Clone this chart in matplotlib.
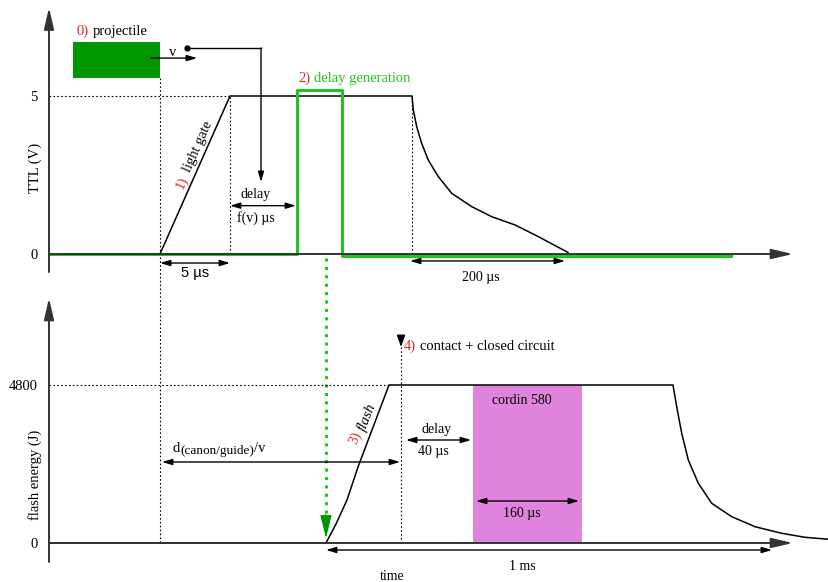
import matplotlib.pyplot as plt

plt.rcParams['font.family'] = ['Liberation Serif', 'DejaVu Serif']

# schematic time axis (not to scale)
ttl_t = [49, 160, 230, 412, 413.3, 416.7, 421.7, 428.3, 438.3, 451.7, 471.7,
         491.7, 515, 538.3, 568]
ttl_v = [0, 0, 5, 5, 4.56, 4.03, 3.5, 2.97, 2.45, 1.92, 1.5, 1.18, 0.92, 0.55,
         0.05]
delay_t = [49, 297, 297, 342, 342, 731]
delay_v = [0, 0, 5.2, 5.2, -0.05, -0.05]
flash_t = [49, 326, 336, 347, 358, 389, 673, 676.7, 681.7, 688.3, 698.3,
           711.7, 731.7, 755, 781.7, 805, 829]
flash_e = [0, 0, 577, 1306, 2309, 4800, 4800, 4141, 3333, 2522, 1814, 1206,
           799, 495, 295, 173, 112]
cordin_t = [473, 582]
ttl_ticks = [0, 5]
flash_ticks = [0, 4800]

RED = '#dd2a2a'
GREEN = '#22c322'
DARKGREEN = '#009600'
PINK = '#e083dc'
AXC = '#333333'

fig = plt.figure(figsize=(8.29, 5.82), dpi=100)
ax1 = fig.add_axes([49/829, 292/582, 780/829, 290/582])
ax2 = fig.add_axes([49/829, 0, 780/829, 292/582])
ax1.set_xlim(49, 829)
ax1.set_ylim(-1.139, 8.038)
ax2.set_xlim(49, 829)
ax2.set_ylim(-1185, 7686)
for ax in (ax1, ax2):
    ax.patch.set_visible(False)
    for s in ax.spines.values():
        s.set_visible(False)
    ax.set_xticks([])
    ax.tick_params(axis='y', length=0, pad=8, labelsize=10.5)
ax1.set_yticks(ttl_ticks)
ax2.set_yticks(flash_ticks)


def arrow(ax, x0, y0, x1, y1, style='-|>,head_length=0.6,head_width=0.18',
          color='black', lw=1, ms=10, ls='-'):
    ax.annotate('', xy=(x1, y1), xytext=(x0, y0),
                arrowprops=dict(arrowstyle=style, color=color, lw=lw, ls=ls,
                                shrinkA=0, shrinkB=0, mutation_scale=ms),
                annotation_clip=False)


def darrow(ax, x0, x1, y):
    arrow(ax, x0, y, x1, y, style='<|-|>,head_length=0.6,head_width=0.18')


def chain(ax, first, second, x, y, c1, c2, size=10):
    t = ax.text(x, y, first, color=c1, fontsize=size, va='baseline')
    ax.annotate(second, xy=(1, 0), xycoords=t, xytext=(2.5, 0),
                textcoords='offset points', color=c2, fontsize=size,
                va='bottom')


big = '-|>,head_length=1.3,head_width=0.3'
dot = (0, (1.5, 2))
FS = 10

# ---------- top panel: TTL ----------
arrow(ax1, 49, -0.57, 49, 7.8, style=big, color=AXC, lw=1.4)
arrow(ax1, 49, 0, 793, 0, style=big, color=AXC, lw=1.4)
ax1.set_ylabel('TTL (V)', fontsize=10.5)
ax1.yaxis.set_label_coords(42, 2.72, transform=ax1.transData)

ax1.plot([49, 230], [5, 5], color='black', lw=0.8, ls=dot)
ax1.plot([230, 230], [0, 5], color='black', lw=0.8, ls=dot)
ax1.plot([412, 412], [0, 5], color='black', lw=0.8, ls=dot)
ax1.plot([160, 160], [5.57, -9.15], color='black', lw=0.8, ls=dot, clip_on=False)

ax1.plot(ttl_t, ttl_v, color='black', lw=1.1)
ax1.plot(delay_t, delay_v, color=GREEN, lw=2.2)

# projectile
ax1.fill([73, 160, 160, 73], [5.57, 5.57, 6.71, 6.71], color=DARKGREEN, lw=0)
chain(ax1, '0)', 'projectile', 77, 6.93, RED, 'black', 10.5)
arrow(ax1, 151, 6.2, 197, 6.2)
ax1.text(173, 6.39, 'v', fontsize=10.5, ha='center', va='center')
ax1.plot([187], [6.52], 'o', color='black', ms=3.5)
ax1.plot([187, 261], [6.52, 6.52], color='black', lw=1)
arrow(ax1, 261, 6.52, 261, 2.28)

chain(ax1, '2)', 'delay generation', 298, 5.44, RED, GREEN, 10.5)

ax1.text(256, 1.87, 'delay', fontsize=FS, ha='center', va='center')
darrow(ax1, 230, 296, 1.53)
ax1.text(256, 1.14, 'f(v) µs', fontsize=FS, ha='center', va='center')

darrow(ax1, 160, 230, -0.285)
ax1.text(195, -0.6, '5 µs', fontsize=10.5, family='Liberation Sans',
         ha='center', va='center')
darrow(ax1, 410, 565, -0.22)
ax1.text(481, -0.73, '200 µs', fontsize=FS, ha='center', va='center')

ax1.text(182, 2.25, '1)', color=RED, fontsize=10.5, rotation=66,
         ha='center', va='center', rotation_mode='anchor')
ax1.text(198, 3.4, 'light gate', fontsize=10.5, rotation=66,
         ha='center', va='center', rotation_mode='anchor')

# green dotted trigger arrow
ax1.plot([326, 326], [-0.12, -8.2], color=GREEN, lw=2.2, ls=(0, (1, 1.75)),
         clip_on=False)
arrow(ax1, 326, -8.25, 326, -8.99, style='-|>,head_length=1.4,head_width=0.35',
      color=DARKGREEN, lw=1)

# ---------- bottom panel: flash ----------
arrow(ax2, 49, -577, 49, 7443, style=big, color=AXC, lw=1.4)
arrow(ax2, 49, 0, 793, 0, style=big, color=AXC, lw=1.4)
ax2.set_ylabel('flash energy (J)', fontsize=10.5)
ax2.yaxis.set_label_coords(42, 2066, transform=ax2.transData)

ax2.fill([cordin_t[0], cordin_t[1], cordin_t[1], cordin_t[0]],
         [0, 0, 4800, 4800], color=PINK, lw=0)
ax2.plot([49, 389], [4800, 4800], color='black', lw=0.8, ls=dot)
ax2.plot([401, 401], [0, 5954], color='black', lw=0.8, ls=dot)
arrow(ax2, 401, 6289, 401, 5954, style='-|>,head_length=0.7,head_width=0.25')
ax2.plot(flash_t, flash_e, color='black', lw=1.1, clip_on=False)

chain(ax2, '4)', 'contact + closed circuit', 404, 5863, RED, 'black', 10.5)
ax2.text(522, 4344, 'cordin 580', fontsize=FS, ha='center', va='center')
darrow(ax2, 476, 579, 1276)
ax2.text(522, 881, '160 µs', fontsize=FS, ha='center', va='center')

ax2.text(437, 3463, 'delay', fontsize=FS, ha='center', va='center')
darrow(ax2, 406, 471, 3129)
ax2.text(433, 2765, '40 µs', fontsize=FS, ha='center', va='center')

# d_(canon/guide)/v written as three pieces so the subscript stays large
td = ax2.text(173, 2765, 'd', fontsize=10.5, va='baseline')
tsub = ax2.annotate('(canon/guide)', xy=(1, 0), xycoords=td, xytext=(0, 0.8),
                    textcoords='offset points', fontsize=9.5, va='baseline')
ax2.annotate('/v', xy=(1, 0), xycoords=tsub, xytext=(0, 3.4),
             textcoords='offset points', fontsize=10.5, va='baseline')
darrow(ax2, 162, 400, 2461)

ax2.text(355, 3190, '3)', color=RED, fontsize=10.5, rotation=68,
         ha='center', va='center', rotation_mode='anchor')
ax2.text(367, 3828, 'flash', fontsize=10.5, rotation=68, style='italic',
         ha='center', va='center', rotation_mode='anchor')

darrow(ax2, 326, 772, -213)
ax2.text(522, -699, '1 ms', fontsize=FS, ha='center', va='center')
ax2.text(392, -1003, 'time', fontsize=FS, ha='center', va='center')

fig.savefig('out.png', dpi=100)
